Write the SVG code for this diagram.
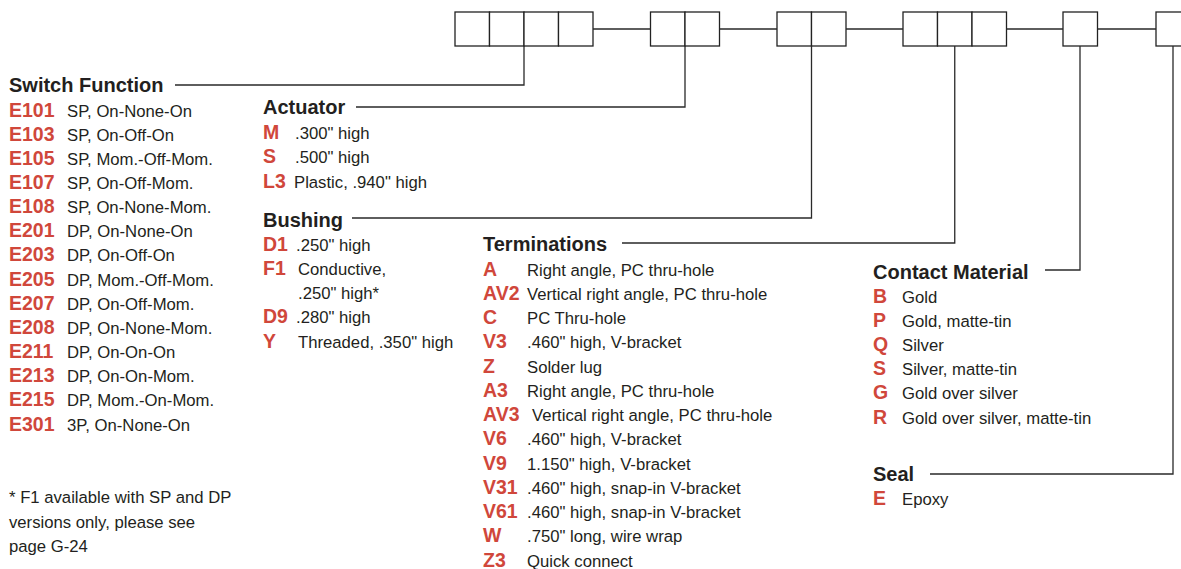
<svg xmlns="http://www.w3.org/2000/svg" width="1181" height="569" viewBox="0 0 1181 569">
<style>
.box{fill:#fff;stroke:#222;stroke-width:1.3}
.ln{fill:none;stroke:#2a2a2a;stroke-width:1.3}
.h{font-family:"Liberation Sans",Arial,sans-serif;font-weight:bold;font-size:20px;fill:#231f20}
.c{font-family:"Liberation Sans",Arial,sans-serif;font-weight:bold;font-size:19.5px;fill:#d0473b}
.t{font-family:"Liberation Sans",Arial,sans-serif;font-size:16.7px;fill:#231f20}
</style>
<rect width="1181" height="569" fill="#fff"/>
<g id="part-number">
<rect class="box" x="455" y="12" width="34.5" height="34"/>
<rect class="box" x="489.5" y="12" width="34.5" height="34"/>
<rect class="box" x="524" y="12" width="34.5" height="34"/>
<rect class="box" x="558.5" y="12" width="34.5" height="34"/>
<rect class="box" x="650.5" y="12" width="34.5" height="34"/>
<rect class="box" x="685" y="12" width="34.5" height="34"/>
<rect class="box" x="777" y="12" width="34.5" height="34"/>
<rect class="box" x="811.5" y="12" width="34.5" height="34"/>
<rect class="box" x="903" y="12" width="34.5" height="34"/>
<rect class="box" x="937.5" y="12" width="34.5" height="34"/>
<rect class="box" x="972" y="12" width="34.5" height="34"/>
<rect class="box" x="1063" y="12" width="34.5" height="34"/>
<rect class="box" x="1156" y="12" width="34.5" height="34"/>
</g>
<g id="connectors">
<path class="ln" d="M593 29H650.5M719.5 29H777M846 29H903M1006.5 29H1063M1097.5 29H1156"/>
<path class="ln" d="M175 85H524V46"/>
<path class="ln" d="M356 107H685V46"/>
<path class="ln" d="M352 218H811.5V46"/>
<path class="ln" d="M622 243H954.75V46"/>
<path class="ln" d="M1045 270H1080V46"/>
<path class="ln" d="M930 474H1173V46"/>
</g>
<g id="switch-function">
<text class="h" x="9" y="92">Switch Function</text>
<text class="c" x="9" y="116.5">E101</text><text class="t" x="67" y="116.5">SP, On-None-On</text>
<text class="c" x="9" y="140.6">E103</text><text class="t" x="67" y="140.6">SP, On-Off-On</text>
<text class="c" x="9" y="164.8">E105</text><text class="t" x="67" y="164.8">SP, Mom.-Off-Mom.</text>
<text class="c" x="9" y="189">E107</text><text class="t" x="67" y="189">SP, On-Off-Mom.</text>
<text class="c" x="9" y="213.1">E108</text><text class="t" x="67" y="213.1">SP, On-None-Mom.</text>
<text class="c" x="9" y="237.3">E201</text><text class="t" x="67" y="237.3">DP, On-None-On</text>
<text class="c" x="9" y="261.4">E203</text><text class="t" x="67" y="261.4">DP, On-Off-On</text>
<text class="c" x="9" y="285.6">E205</text><text class="t" x="67" y="285.6">DP, Mom.-Off-Mom.</text>
<text class="c" x="9" y="309.7">E207</text><text class="t" x="67" y="309.7">DP, On-Off-Mom.</text>
<text class="c" x="9" y="333.9">E208</text><text class="t" x="67" y="333.9">DP, On-None-Mom.</text>
<text class="c" x="9" y="358">E211</text><text class="t" x="67" y="358">DP, On-On-On</text>
<text class="c" x="9" y="382.2">E213</text><text class="t" x="67" y="382.2">DP, On-On-Mom.</text>
<text class="c" x="9" y="406.3">E215</text><text class="t" x="67" y="406.3">DP, Mom.-On-Mom.</text>
<text class="c" x="9" y="430.5">E301</text><text class="t" x="67" y="430.5">3P, On-None-On</text>
</g>
<g id="actuator">
<text class="h" x="263" y="114">Actuator</text>
<text class="c" x="263" y="138.5">M</text><text class="t" x="295" y="138.5">.300" high</text>
<text class="c" x="263" y="163">S</text><text class="t" x="295" y="163">.500" high</text>
<text class="c" x="263" y="187.5">L3</text><text class="t" x="294" y="187.5">Plastic, .940" high</text>
</g>
<g id="bushing">
<text class="h" x="263" y="227">Bushing</text>
<text class="c" x="263" y="250.5">D1</text><text class="t" x="296" y="250.5">.250" high</text>
<text class="c" x="263" y="274.8">F1</text><text class="t" x="298" y="274.8">Conductive,</text>
<text class="t" x="298" y="299.1">.250" high*</text>
<text class="c" x="263" y="323.4">D9</text><text class="t" x="296" y="323.4">.280" high</text>
<text class="c" x="263" y="347.7">Y</text><text class="t" x="298" y="347.7">Threaded, .350" high</text>
</g>
<g id="terminations">
<text class="h" x="483" y="251">Terminations</text>
<text class="c" x="483" y="275.5">A</text><text class="t" x="527" y="275.5">Right angle, PC thru-hole</text>
<text class="c" x="483" y="299.8">AV2</text><text class="t" x="527" y="299.8">Vertical right angle, PC thru-hole</text>
<text class="c" x="483" y="324">C</text><text class="t" x="527" y="324">PC Thru-hole</text>
<text class="c" x="483" y="348.3">V3</text><text class="t" x="527" y="348.3">.460" high, V-bracket</text>
<text class="c" x="483" y="372.5">Z</text><text class="t" x="527" y="372.5">Solder lug</text>
<text class="c" x="483" y="396.8">A3</text><text class="t" x="527" y="396.8">Right angle, PC thru-hole</text>
<text class="c" x="483" y="421">AV3</text><text class="t" x="532" y="421">Vertical right angle, PC thru-hole</text>
<text class="c" x="483" y="445.3">V6</text><text class="t" x="527" y="445.3">.460" high, V-bracket</text>
<text class="c" x="483" y="469.5">V9</text><text class="t" x="527" y="469.5">1.150" high, V-bracket</text>
<text class="c" x="483" y="493.8">V31</text><text class="t" x="527" y="493.8">.460" high, snap-in V-bracket</text>
<text class="c" x="483" y="518">V61</text><text class="t" x="527" y="518">.460" high, snap-in V-bracket</text>
<text class="c" x="483" y="542.3">W</text><text class="t" x="527" y="542.3">.750" long, wire wrap</text>
<text class="c" x="483" y="566.5">Z3</text><text class="t" x="527" y="566.5">Quick connect</text>
</g>
<g id="contact-material">
<text class="h" x="873" y="279">Contact Material</text>
<text class="c" x="873" y="302.5">B</text><text class="t" x="902" y="302.5">Gold</text>
<text class="c" x="873" y="326.7">P</text><text class="t" x="902" y="326.7">Gold, matte-tin</text>
<text class="c" x="873" y="350.9">Q</text><text class="t" x="902" y="350.9">Silver</text>
<text class="c" x="873" y="375.1">S</text><text class="t" x="902" y="375.1">Silver, matte-tin</text>
<text class="c" x="873" y="399.3">G</text><text class="t" x="902" y="399.3">Gold over silver</text>
<text class="c" x="873" y="423.5">R</text><text class="t" x="902" y="423.5">Gold over silver, matte-tin</text>
</g>
<g id="seal">
<text class="h" x="873" y="481">Seal</text>
<text class="c" x="873" y="504.5">E</text><text class="t" x="902" y="504.5">Epoxy</text>
</g>
<g id="footnote">
<text class="t" x="9" y="503">* F1 available with SP and DP</text>
<text class="t" x="9" y="527.5">versions only, please see</text>
<text class="t" x="9" y="552">page G-24</text>
</g>
</svg>
